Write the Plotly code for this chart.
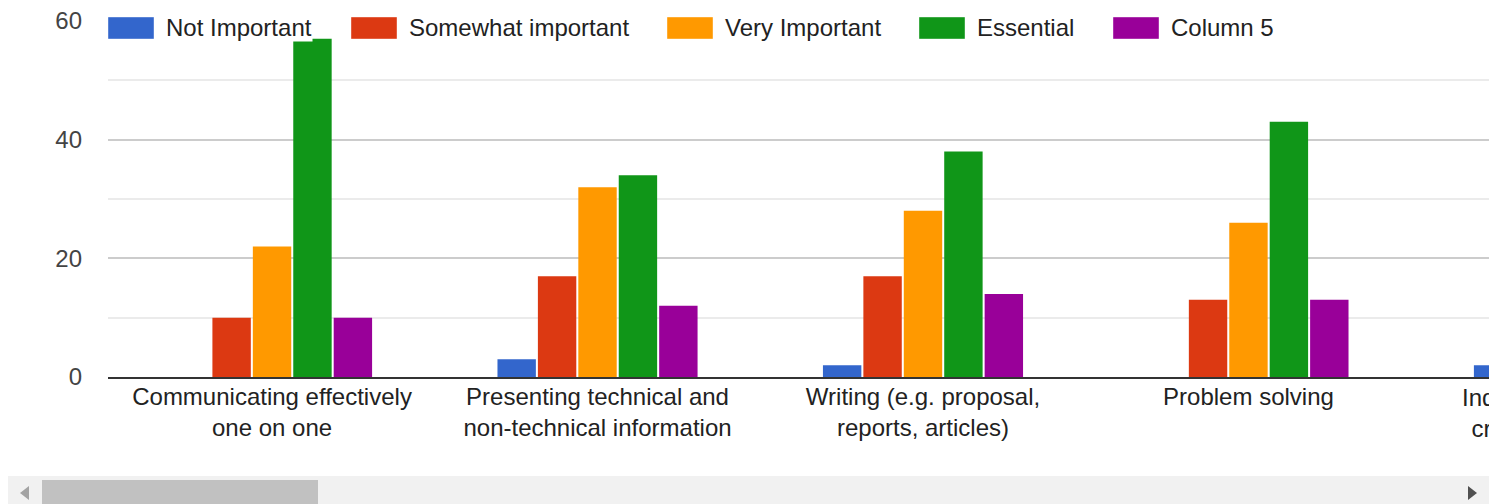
import plotly.graph_objects as go

# ---------------- data ----------------
categories = [
    "Communicating effectively<br>one on one",
    "Presenting technical and<br>non-technical information",
    "Writing (e.g. proposal,<br>reports, articles)",
    "Problem solving",
    "Independent thinking<br>critical thinking and",
]
series_names = ["Not Important", "Somewhat important", "Very Important", "Essential", "Column 5"]
not_important = [0, 3, 2, 0, 2]
somewhat_important = [10, 17, 17, 13, None]
very_important = [22, 32, 28, 26, None]
essential = [57, 34, 38, 43, None]
column_5 = [10, 12, 14, 13, None]
series_values = [not_important, somewhat_important, very_important, essential, column_5]
y_ticks = [0, 20, 40, 60]

# ---------------- style ----------------
colors = ["#3366cc", "#dc3912", "#ff9900", "#109618", "#990099"]
FONT = "Liberation Sans, Arial, sans-serif"
FS = 24
W, H = 1489, 504
ML, MT = 108, 21
PLOT_BOTTOM = 377
PW, PH = W - ML, PLOT_BOTTOM - MT
x_range = [-0.504, 3.739]


def px(x):
    return (x - ML) / PW


def py(y):
    return (PLOT_BOTTOM - y) / PH


xs = list(range(len(categories)))
fig = go.Figure()
for name, vals, col in zip(series_names, series_values, colors):
    fig.add_trace(go.Bar(x=xs, y=vals, name=name, marker_color=col,
                         marker_line_width=0, hoverinfo="skip", showlegend=False))

shapes = []
annotations = []

# custom legend (large swatches like the original)
legend_box_x = [108, 351, 667, 919, 1113]
for name, col, bx in zip(series_names, colors, legend_box_x):
    shapes.append(dict(type="rect", xref="paper", yref="paper",
                       x0=px(bx), x1=px(bx + 46), y0=py(39), y1=py(17),
                       fillcolor=col, line=dict(width=1, color="rgba(255,255,255,0.4)"),
                       layer="above"))
    annotations.append(dict(xref="paper", yref="paper", x=px(bx + 57), y=py(28),
                            xanchor="left", yanchor="middle", text=name, showarrow=False,
                            font=dict(family=FONT, size=FS, color="#222222"),
                            bgcolor="white", borderpad=0))

# clipped label of the last (partly hidden) category
last = len(categories) - 1
annotations.append(dict(xref="paper", yref="paper",
                        x=(last - x_range[0]) / (x_range[1] - x_range[0]),
                        y=py(382), xanchor="center", yanchor="top",
                        text=categories[last], showarrow=False,
                        font=dict(family=FONT, size=FS, color="#222222")))

# horizontal scrollbar
shapes.append(dict(type="rect", xref="paper", yref="paper", x0=px(8), x1=px(1489),
                   y0=py(504), y1=py(476), fillcolor="#f1f1f1", line=dict(width=0)))
shapes.append(dict(type="rect", xref="paper", yref="paper", x0=px(42), x1=px(318),
                   y0=py(504), y1=py(480), fillcolor="#c1c1c1", line=dict(width=0)))
shapes.append(dict(type="path", xref="paper", yref="paper",
                   path=f"M {px(29)} {py(486)} L {px(20)} {py(493)} L {px(29)} {py(500)} Z",
                   fillcolor="#a3a3a3", line=dict(width=0)))
shapes.append(dict(type="path", xref="paper", yref="paper",
                   path=f"M {px(1468)} {py(486)} L {px(1477)} {py(493)} L {px(1468)} {py(500)} Z",
                   fillcolor="#505050", line=dict(width=0)))

fig.update_layout(
    width=W, height=H,
    margin=dict(l=ML, r=0, t=MT, b=H - PLOT_BOTTOM, pad=0),
    paper_bgcolor="white", plot_bgcolor="white",
    barmode="group", bargap=0.379, bargroupgap=0.05,
    font=dict(family=FONT, size=FS, color="#222222"),
    showlegend=False,
    shapes=shapes, annotations=annotations,
)
fig.update_xaxes(
    range=x_range, tickmode="array", tickvals=xs, ticktext=categories,
    showgrid=False, zeroline=False, showline=True, linecolor="#333333", linewidth=2,
    ticks="", tickfont=dict(family=FONT, size=FS, color="#222222"), fixedrange=True,
    ticklabelstandoff=-3,
)
fig.update_yaxes(
    range=[0, 60], tickmode="array", tickvals=y_ticks,
    showgrid=True, gridcolor="#cccccc", gridwidth=2, zeroline=False,
    minor=dict(dtick=10, showgrid=True, gridcolor="#ebebeb", gridwidth=2),
    tickfont=dict(family=FONT, size=FS, color="#444444"),
    ticklabelstandoff=25, fixedrange=True,
)

fig.write_html("out.html", config={"displayModeBar": False},
               post_script="document.body.style.margin='0';")
